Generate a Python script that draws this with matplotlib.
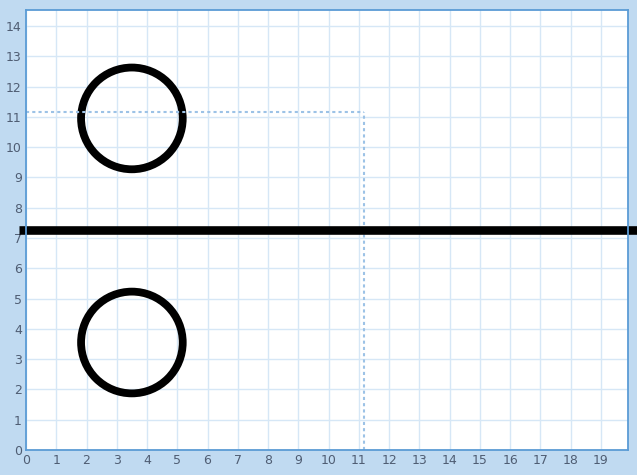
import matplotlib
matplotlib.use("Agg")
import matplotlib.pyplot as plt
from matplotlib.patches import Circle

# data
circle_x = [3.5, 3.5]
circle_y = [10.95, 3.55]
circle_r = [1.68, 1.68]
hline_y = 7.25
hline_x = [-0.23, 20.5]
cross_x = 11.17
cross_y = 11.17
x_ticks = list(range(0, 20))
y_ticks = list(range(0, 15))

bg = "#c0daf1"
grid_c = "#d6e7f6"
border_c = "#5b9bd5"
label_c = "#4f5d73"
dot_c = "#9cc2e6"

fig = plt.figure(figsize=(6.37, 4.75), dpi=100, facecolor=bg)
ax = fig.add_axes([26 / 637, 25 / 475, 601.5 / 637, 440 / 475])
ax.set_facecolor("white")
ax.set_xlim(0, 19.88)
ax.set_ylim(0, 14.53)

ax.set_xticks(x_ticks)
ax.set_yticks(y_ticks)
ax.tick_params(length=0, labelsize=9, labelcolor=label_c, pad=3)
ax.grid(True, color=grid_c, linewidth=1.0)
ax.set_axisbelow(True)
for s in ax.spines.values():
    s.set_color(border_c)
    s.set_linewidth(1.3)

# crosshair
ax.plot([0, cross_x], [cross_y, cross_y], color=dot_c, lw=1.5,
        linestyle=(0, (1.5, 1.5)))
ax.plot([cross_x, cross_x], [0, cross_y], color=dot_c, lw=1.5,
        linestyle=(0, (1.5, 1.5)))

# circles
for cx, cy, r in zip(circle_x, circle_y, circle_r):
    ax.add_patch(Circle((cx, cy), r, fill=False, edgecolor="black", lw=5.6))

# thick horizontal line, runs past the plot frame
ax.plot(hline_x, [hline_y, hline_y], color="black", lw=6.2, clip_on=False,
        solid_capstyle="butt")

fig.savefig("out.png", dpi=100, facecolor=bg)
